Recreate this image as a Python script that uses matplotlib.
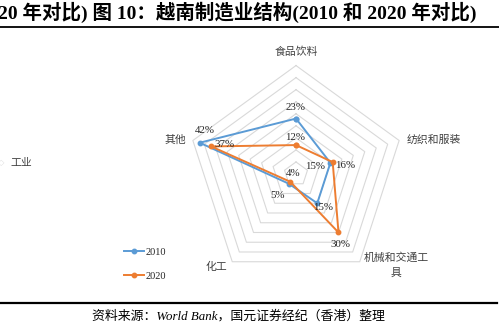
import numpy as np
import matplotlib
matplotlib.use("Agg")
import matplotlib.pyplot as plt
from matplotlib.lines import Line2D

plt.rcParams['font.family'] = ['Liberation Serif', 'Noto Sans CJK SC']

categories = ['食品饮料', '纺织和服装', '机械和交通工具', '化工', '其他']
cat_labels = ['食品饮料', '纺织和服装', '机械和交通工\n具', '化工', '其他']
values_2010 = [23, 15, 15, 5, 42]
values_2020 = [12, 16, 30, 4, 37]
ring_levels = [5, 10, 15, 20, 25, 30, 35, 40, 45]
series_names = ['2010', '2020']

C2010 = '#5B9BD5'
C2020 = '#ED7D31'

W, H = 499, 333
fig = plt.figure(figsize=(W / 100, H / 100), dpi=100)
ax = fig.add_axes([0, 0, 1, 1])
ax.set_axis_off()

# center pixel (296, 174 from top), 2.41 px per percent
cx, cy, s = 296, 174, 2.41
ax.set_xlim(-cx / s, (W - cx) / s)
ax.set_ylim(-(H - cy) / s, cy / s)

n = len(categories)
ang = np.deg2rad(90 - 72 * np.arange(n))


def xy(vals):
    v = np.asarray(vals, dtype=float)
    return v * np.cos(ang), v * np.sin(ang)


# pentagon grid rings
for r in ring_levels:
    gx, gy = xy([r] * n)
    ax.plot(np.r_[gx, gx[0]], np.r_[gy, gy[0]], color='#d9d9d9', lw=0.8, zorder=1)

# series
for vals, col, name in [(values_2010, C2010, series_names[0]), (values_2020, C2020, series_names[1])]:
    px, py = xy(vals)
    ax.plot(np.r_[px, px[0]], np.r_[py, py[0]], color=col, lw=1.4, marker='o',
            markersize=3.2, zorder=3, label=name)

# data labels (offsets in pixels)
off_2010 = [(0, 11), (-15, -4), (6, -4), (-11, -12), (5, 12)]
off_2020 = [(-1, 8), (12, -3), (2, -12), (3, 8), (13, 2)]
for vals, offs in [(values_2010, off_2010), (values_2020, off_2020)]:
    px, py = xy(vals)
    for i in range(n):
        ax.annotate(f'{vals[i]}%', (px[i], py[i]), xytext=offs[i], textcoords='offset pixels',
                    ha='center', va='center', fontsize=7.8, color='#262626', zorder=4)

# category labels around outer ring
vx, vy = xy([ring_levels[-1]] * n)
cat_pos = [((0, 14), 'center', 'center'),
           ((7, 1), 'left', 'center'),
           ((4, 9), 'left', 'top'),
           ((-5, -5), 'right', 'center'),
           ((-7, 1), 'right', 'center')]
for i in range(n):
    off, ha, va = cat_pos[i]
    ax.annotate(cat_labels[i], (vx[i], vy[i]), xytext=off, textcoords='offset pixels',
                ha=ha, va=va, fontsize=7.8, color='#404040', multialignment='center',
                linespacing=1.5)

# legend
handles = [Line2D([], [], color=C2010, lw=1.4, marker='o', markersize=3.2),
           Line2D([], [], color=C2020, lw=1.4, marker='o', markersize=3.2)]
fig.legend(handles, series_names, loc='center left', bbox_to_anchor=(0.249, 0.207),
           frameon=False, fontsize=7.5, handlelength=1.9, handletextpad=0.1,
           labelspacing=1.4, borderpad=0, borderaxespad=0, labelcolor='#262626')

# leftover left label
fig.text(1 / W, 1 - 163 / H, '◇', fontsize=6, color='#dddddd', ha='center', va='center',
         family=['DejaVu Sans'])
fig.text(10 / W, 1 - 163 / H, '工业', fontsize=7.8, color='#404040', ha='left', va='center')

# title and rules
fig.text(-2 / W, 1 - 12.5 / H, '20 年对比) 图 10：越南制造业结构(2010 和 2020 年对比)',
         fontsize=14, fontweight='bold', ha='left', va='center', color='black')
fig.add_artist(Line2D([0, 1], [1 - 26.5 / H, 1 - 26.5 / H], color='black', lw=1.3,
                      transform=fig.transFigure))
fig.add_artist(Line2D([0, 497 / W], [1 - 303 / H, 1 - 303 / H], color='black', lw=1.6,
                      transform=fig.transFigure))
fig.text(92 / W, 1 - 316 / H, '资料来源：World Bank，国元证券经纪（香港）整理',
         fontsize=9.3, style='italic', ha='left', va='center', color='black')

fig.savefig('out.png', dpi=100)
